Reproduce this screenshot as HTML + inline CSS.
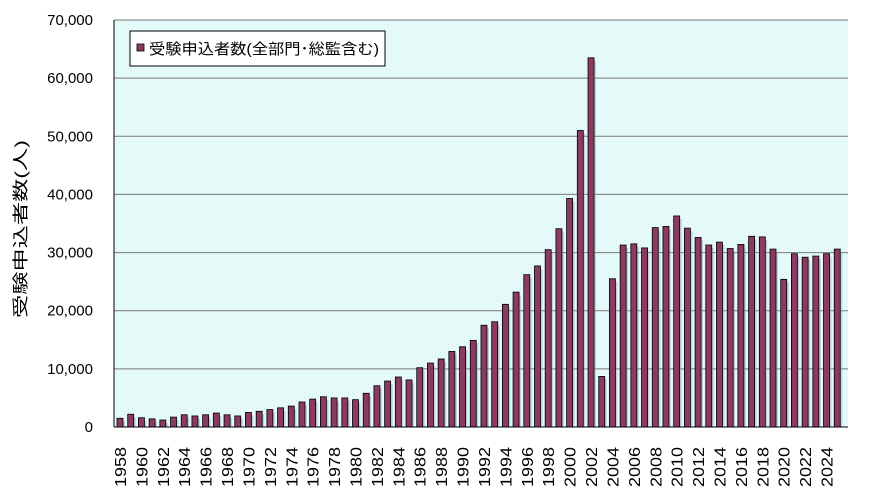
<!DOCTYPE html><html><head><meta charset="utf-8"><style>body{margin:0;background:#fff;}svg text{font-family:"Liberation Sans","Noto Sans CJK JP",sans-serif;}</style></head><body>
<svg id="s" width="880" height="493" xmlns="http://www.w3.org/2000/svg">
<defs><pattern id="p" width="4" height="4" patternUnits="userSpaceOnUse"><rect width="4" height="4" fill="#e8fbfb"/><rect width="1" height="1" fill="#d4eeee"/><rect x="2" y="2" width="1" height="1" fill="#d4eeee"/></pattern></defs>
<rect x="114" y="20" width="734" height="407" fill="url(#p)"/>
<g id="g"></g>
<line x1="114" y1="20" x2="114" y2="427" stroke="#000"/>
<line x1="114" y1="427" x2="848" y2="427" stroke="#000"/>
<rect x="130" y="31" width="255" height="35" fill="#fff" stroke="#000"/>
<rect x="137" y="44" width="7" height="7" fill="#8b3a62" stroke="#000" stroke-width="0.8"/>
<text x="149" y="54" font-size="15" textLength="230" lengthAdjust="spacingAndGlyphs">受験申込者数(全部門･総監含む)</text>
<text transform="translate(26,229) rotate(-90)" font-size="16" text-anchor="middle" textLength="178" lengthAdjust="spacingAndGlyphs">受験申込者数(人)</text>
</svg>
<script>
var v=[1500,2200,1600,1400,1200,1700,2100,1900,2100,2400,2100,1900,2500,2700,3000,3300,3600,4300,4800,5200,5000,5000,4700,5800,7100,7900,8600,8100,10200,11000,11700,13000,13800,14900,17500,18100,21100,23200,26200,27700,30500,34100,39300,51000,63500,8700,25500,31300,31500,30800,34300,34500,36300,34200,32600,31300,31800,30700,31400,32800,32700,30600,25400,29800,29200,29400,29800,30600];
var h='';
for(var i=1;i<=7;i++){var y=427-i*10000*407/70000;h+='<line x1="114" y1="'+y+'" x2="848" y2="'+y+'" stroke="#777"/>';}
for(var i=0;i<=7;i++){var y=427-i*10000*407/70000;h+='<text x="93" y="'+(y+5)+'" font-size="15" text-anchor="end">'+(i?i*10+',000':'0')+'</text>';}
v.forEach(function(d,i){var c=120+i*10.705,y=427-d*407/70000;
h+='<rect x="'+(c-1)+'" y="'+(y+3)+'" width="6" height="'+(427-y-3)+'" fill="#9ab" opacity="0.5"/>';
h+='<rect x="'+(c-3)+'" y="'+y+'" width="6" height="'+(427-y)+'" fill="#8b3a62" stroke="#000" stroke-width="0.8"/>';
if(i%2==0)h+='<text transform="translate('+(c+6)+',487) rotate(-90)" font-size="16" textLength="40" lengthAdjust="spacingAndGlyphs">'+(1958+i)+'</text>';});
document.getElementById('g').innerHTML=h;
</script></body></html>
